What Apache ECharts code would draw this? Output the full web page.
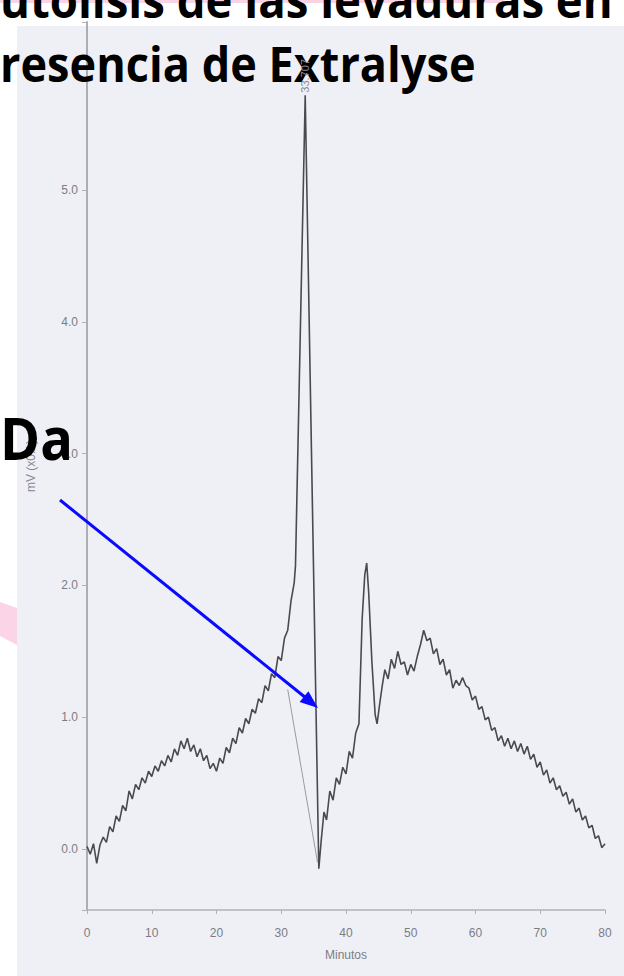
<!DOCTYPE html>
<html>
<head>
<meta charset="utf-8">
<script src="https://cdn.jsdelivr.net/npm/echarts@6/dist/echarts.min.js"></script>
<style>
  html, body { margin: 0; padding: 0; background: #ffffff; }
  #chart { width: 624px; height: 976px; }
</style>
</head>
<body>
<div id="chart"></div>
<script>
// Chromatogram trace: retention time (min) and detector signal
const minutos = [
  0.0, 0.5, 1.0, 1.5, 2.0, 2.5, 3.0, 3.5, 4.0, 4.5, 5.0, 5.5, 6.0, 6.5, 7.0, 7.5, 8.0, 8.5, 9.0, 9.5,
  10.0, 10.5, 11.0, 11.5, 12.0, 12.5, 13.0, 13.5, 14.0, 14.5, 15.0, 15.5, 16.0, 16.5, 17.0, 17.5, 18.0, 18.5, 19.0, 19.5,
  20.0, 20.5, 21.0, 21.5, 22.0, 22.5, 23.0, 23.5, 24.0, 24.5, 25.0, 25.5, 26.0, 26.5, 27.0, 27.5, 28.0, 28.5, 29.0, 29.5,
  30.0, 30.5, 31.0, 31.5, 32.0, 32.2, 33.7, 35.8, 36.2, 36.6, 37.0, 37.5, 38.0, 38.5, 39.0, 39.5,
  40.0, 40.5, 41.0, 41.5, 42.0, 42.5, 42.9, 43.2, 43.5, 44.0, 44.5, 44.8, 45.2, 45.6, 46.0, 46.5, 47.0, 47.5, 48.0, 48.5, 49.0, 49.5,
  50.0, 50.5, 51.0, 51.5, 52.0, 52.5, 53.0, 53.5, 54.0, 54.5, 55.0, 55.5, 56.0, 56.5, 57.0, 57.5, 58.0, 58.5, 59.0, 59.5,
  60.0, 60.5, 61.0, 61.5, 62.0, 62.5, 63.0, 63.5, 64.0, 64.5, 65.0, 65.5, 66.0, 66.5, 67.0, 67.5, 68.0, 68.5, 69.0, 69.5,
  70.0, 70.5, 71.0, 71.5, 72.0, 72.5, 73.0, 73.5, 74.0, 74.5, 75.0, 75.5, 76.0, 76.5, 77.0, 77.5, 78.0, 78.5, 79.0, 79.5,
  80.0
];
const senal = [
  0.02, -0.04, 0.04, -0.11, 0.03, 0.09, 0.05, 0.17, 0.13, 0.25, 0.21, 0.33, 0.29, 0.44, 0.38, 0.49, 0.45, 0.54, 0.50, 0.59,
  0.55, 0.63, 0.59, 0.67, 0.63, 0.71, 0.66, 0.76, 0.71, 0.82, 0.76, 0.84, 0.74, 0.79, 0.70, 0.76, 0.67, 0.71, 0.61, 0.65,
  0.59, 0.69, 0.65, 0.77, 0.73, 0.84, 0.80, 0.92, 0.88, 0.99, 0.95, 1.06, 1.03, 1.14, 1.11, 1.24, 1.20, 1.33, 1.30, 1.46,
  1.43, 1.60, 1.66, 1.88, 2.02, 2.15, 5.72, -0.15, 0.08, 0.28, 0.22, 0.44, 0.37, 0.54, 0.49, 0.62,
  0.57, 0.74, 0.69, 0.88, 0.95, 1.75, 2.08, 2.17, 1.95, 1.42, 1.02, 0.95, 1.10, 1.24, 1.36, 1.29, 1.44, 1.37, 1.50, 1.40, 1.42, 1.32,
  1.40, 1.35, 1.46, 1.55, 1.66, 1.58, 1.60, 1.48, 1.52, 1.40, 1.44, 1.32, 1.36, 1.22, 1.28, 1.24, 1.30, 1.24, 1.22, 1.13,
  1.16, 1.06, 1.08, 0.98, 1.00, 0.90, 0.92, 0.82, 0.86, 0.78, 0.84, 0.76, 0.82, 0.74, 0.80, 0.72, 0.78, 0.68, 0.72, 0.62,
  0.66, 0.56, 0.60, 0.50, 0.54, 0.45, 0.48, 0.40, 0.43, 0.34, 0.38, 0.28, 0.31, 0.22, 0.25, 0.16, 0.18, 0.08, 0.10, 0.01,
  0.04
];

// Integration baseline under the main peak (start, end)
const lineaBaseMin = [31.0, 35.6];
const lineaBaseVal = [1.21, -0.10];

// Main peak retention time label
const picoTiempo = 33.7;
const picoValor = 5.72;
const picoEtiqueta = '33.707';

// Axis ranges and labels
const xMin = 0, xMax = 80, xPaso = 10;
const yMin = -0.463, yMax = 6.275;
const yEtiquetas = [0, 1, 2, 3, 4, 5];

const titulo1 = 'utolisis de las levaduras en';
const titulo2 = 'resencia de Extralyse';
const rotulo = 'Da';
const ejeX = 'Minutos';
const ejeY = 'mV (x0.1)';

const traza = minutos.map((t, i) => [t, senal[i]]);
const base = lineaBaseMin.map((t, i) => [t, lineaBaseVal[i]]);

const chart = echarts.init(document.getElementById('chart'), null, { renderer: 'svg' });

const greyText = '#7c7c84';
const smallFont = 'Arial, "Liberation Sans"';

chart.setOption({
  animation: false,
  backgroundColor: 'transparent',
  grid: { left: 87, right: 19, top: 22, bottom: 66, containLabel: false },
  xAxis: {
    type: 'value', min: xMin, max: xMax, interval: xPaso,
    name: ejeX, nameLocation: 'middle', nameGap: 39,
    nameTextStyle: { color: greyText, fontSize: 12, fontFamily: smallFont },
    axisLine: { show: true, onZero: false, lineStyle: { color: '#b2b2ba', width: 1.5 } },
    axisTick: { show: true, length: 4, lineStyle: { color: '#b2b2ba' } },
    axisLabel: { color: greyText, fontSize: 12, margin: 17, fontFamily: smallFont },
    splitLine: { show: false }
  },
  yAxis: {
    type: 'value', min: yMin, max: yMax,
    name: ejeY, nameLocation: 'middle', nameGap: 50, nameRotate: 90,
    nameTextStyle: { color: '#86868e', fontSize: 12, fontFamily: smallFont },
    axisLine: { show: true, lineStyle: { color: '#adadb6', width: 2 } },
    axisTick: { show: true, length: 5, lineStyle: { color: '#b2b2ba' } },
    axisLabel: {
      color: greyText, fontSize: 12, margin: 9, fontFamily: smallFont,
      formatter: v => (yEtiquetas.indexOf(v) >= 0 ? v.toFixed(1) : '')
    },
    splitLine: { show: false }
  },
  series: [
    {
      type: 'line', data: traza, showSymbol: false, symbol: 'none',
      lineStyle: { color: '#4a4a4e', width: 1.6 },
      z: 3,
      markPoint: {
        z: 20,
        symbol: 'circle', symbolSize: 1,
        itemStyle: { color: 'rgba(0,0,0,0)' },
        data: [{ coord: [picoTiempo, picoValor], value: picoEtiqueta }],
        label: {
          show: true, formatter: picoEtiqueta, rotate: 90, position: 'top', distance: 2,
          align: 'left', verticalAlign: 'middle',
          color: '#8a8a92', fontSize: 11, fontFamily: smallFont
        }
      }
    },
    {
      type: 'line', data: base, showSymbol: false, symbol: 'none',
      lineStyle: { color: '#9a9aa2', width: 1 }, z: 2
    }
  ],
  graphic: [
    // slide panel behind the chart image
    { type: 'rect', z: -10, shape: { x: 17, y: 26, width: 607, height: 950 }, style: { fill: '#eff0f6' }, silent: true },
    { type: 'polygon', z: -9, shape: { points: [[0, 0], [505, 0], [503, 3], [0, 3]] }, style: { fill: '#f9d3e6' }, silent: true },
    { type: 'polygon', z: -9, shape: { points: [[0, 602], [17, 608], [17, 645], [0, 636]] }, style: { fill: '#fcd4e8' }, silent: true },
    // slide title
    { type: 'text', z: 1, x: 0, y: -1, scaleX: 0.93, style: { text: titulo1, font: 'bold 49px "Open Sans"', fill: '#000', textVerticalAlign: 'middle' }, silent: true },
    { type: 'text', z: 1, x: 0, y: 63, scaleX: 0.92, style: { text: titulo2, font: 'bold 49px "Open Sans"', fill: '#000', textVerticalAlign: 'middle' }, silent: true },
    { type: 'text', z: 50, x: 0, y: 437, scaleX: 0.92, style: { text: rotulo, font: 'bold 59px "Open Sans"', fill: '#000', textVerticalAlign: 'middle' }, silent: true },
    // blue arrow
    { type: 'line', z: 50, shape: { x1: 60, y1: 500, x2: 306, y2: 698 }, style: { stroke: '#0a0aff', lineWidth: 3 }, silent: true },
    { type: 'polygon', z: 50, shape: { points: [[318, 708], [308.4, 691.3], [299.6, 702.1]] }, style: { fill: '#0a0aff' }, silent: true }
  ]
});
</script>
</body>
</html>
